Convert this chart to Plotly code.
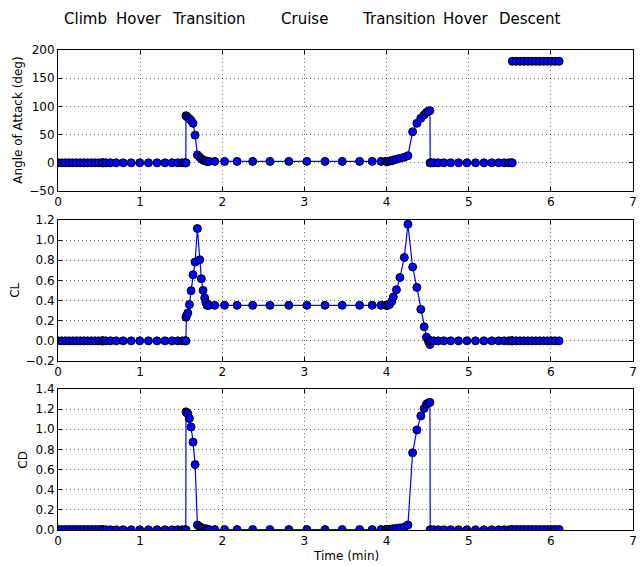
import plotly.graph_objects as go

# ---- mission segment data (time in minutes) ----
climb_t = [0.000, 0.045, 0.090, 0.135, 0.180, 0.225, 0.270, 0.315, 0.360, 0.405, 0.450, 0.495, 0.540]
climb_aoa = [0, 0, 0, 0, 0, 0, 0, 0, 0, 0, 0, 0, 0]
climb_cl = [0, 0, 0, 0, 0, 0, 0, 0, 0, 0, 0, 0, 0]
climb_cd = [0.005, 0.005, 0.005, 0.005, 0.005, 0.005, 0.005, 0.005, 0.005, 0.005, 0.005, 0.005, 0.005]

hover1_t = [0.540, 0.551, 0.584, 0.637, 0.708, 0.794, 0.891, 0.995, 1.101, 1.205, 1.302, 1.388, 1.459, 1.512, 1.545, 1.556]
hover1_aoa = [0, 0, 0, 0, 0, 0, 0, 0, 0, 0, 0, 0, 0, 0, 0, 0]
hover1_cl = [0, 0, 0, 0, 0, 0, 0, 0, 0, 0, 0, 0, 0, 0, 0, 0]
hover1_cd = [0.002, 0.002, 0.002, 0.002, 0.002, 0.002, 0.002, 0.002, 0.002, 0.002, 0.002, 0.002, 0.002, 0.002, 0.002, 0.002]

trans1_t = [1.556, 1.558, 1.565, 1.580, 1.600, 1.620, 1.644, 1.669, 1.697, 1.726, 1.745, 1.766, 1.786, 1.800, 1.816]
trans1_aoa = [0, 83.5, 82.5, 80.5, 78.0, 75.0, 70.0, 49.0, 14.0, 9.8, 7.0, 5.0, 3.7, 3.0, 2.7]
trans1_cl = [0, 0.234, 0.250, 0.277, 0.360, 0.498, 0.656, 0.782, 1.115, 0.805, 0.617, 0.501, 0.426, 0.382, 0.353]
trans1_cd = [0, 1.173, 1.165, 1.157, 1.107, 1.023, 0.873, 0.650, 0.050, 0.033, 0.020, 0.015, 0.012, 0.010, 0.009]

cruise_t = [1.816, 1.840, 1.908, 2.028, 2.180, 2.370, 2.580, 2.810, 3.030, 3.250, 3.460, 3.672, 3.825, 3.933, 3.990, 4.006]
cruise_aoa = [2.6, 2.5, 2.5, 2.5, 2.5, 2.5, 2.5, 2.5, 2.5, 2.5, 2.5, 2.5, 2.5, 2.5, 2.5, 2.5]
cruise_cl = [0.353, 0.353, 0.353, 0.353, 0.353, 0.353, 0.353, 0.353, 0.353, 0.353, 0.353, 0.353, 0.353, 0.353, 0.353, 0.353]
cruise_cd = [0.004, 0.004, 0.004, 0.004, 0.004, 0.004, 0.004, 0.004, 0.004, 0.004, 0.004, 0.004, 0.004, 0.004, 0.004, 0.004]

trans2_t = [4.006, 4.015, 4.035, 4.063, 4.083, 4.120, 4.163, 4.216, 4.260, 4.317, 4.369, 4.417, 4.458, 4.486, 4.510, 4.528, 4.531]
trans2_aoa = [2.5, 2.6, 3.0, 3.7, 5.0, 6.2, 8.0, 9.8, 12.6, 55.0, 70.0, 79.0, 85.0, 89.5, 91.5, 92.5, 0]
trans2_cl = [0.353, 0.353, 0.360, 0.392, 0.436, 0.508, 0.629, 0.828, 1.158, 0.733, 0.531, 0.313, 0.139, 0.036, -0.004, -0.037, 0]
trans2_cd = [0.004, 0.005, 0.007, 0.009, 0.012, 0.016, 0.021, 0.030, 0.050, 0.767, 0.993, 1.133, 1.207, 1.250, 1.263, 1.267, 0]

hover2_t = [4.531, 4.542, 4.574, 4.627, 4.697, 4.781, 4.876, 4.978, 5.083, 5.185, 5.280, 5.364, 5.434, 5.487, 5.519, 5.530]
hover2_aoa = [0, 0, 0, 0, 0, 0, 0, 0, 0, 0, 0, 0, 0, 0, 0, 0]
hover2_cl = [0, 0, 0, 0, 0, 0, 0, 0, 0, 0, 0, 0, 0, 0, 0, 0]
hover2_cd = [0.002, 0.002, 0.002, 0.002, 0.002, 0.002, 0.002, 0.002, 0.002, 0.002, 0.002, 0.002, 0.002, 0.002, 0.002, 0.002]

descent_t = [5.530, 5.577, 5.625, 5.672, 5.720, 5.767, 5.815, 5.862, 5.910, 5.957, 6.005, 6.052, 6.100]
descent_aoa = [180, 180, 180, 180, 180, 180, 180, 180, 180, 180, 180, 180, 180]
descent_cl = [0, 0, 0, 0, 0, 0, 0, 0, 0, 0, 0, 0, 0]
descent_cd = [0.005, 0.005, 0.005, 0.005, 0.005, 0.005, 0.005, 0.005, 0.005, 0.005, 0.005, 0.005, 0.005]

phase_labels = ["Climb", "Hover", "Transition", "Cruise", "Transition", "Hover", "Descent"]
x_ticks = [0, 1, 2, 3, 4, 5, 6, 7]

segments = [
    (climb_t, climb_aoa, climb_cl, climb_cd),
    (hover1_t, hover1_aoa, hover1_cl, hover1_cd),
    (trans1_t, trans1_aoa, trans1_cl, trans1_cd),
    (cruise_t, cruise_aoa, cruise_cl, cruise_cd),
    (trans2_t, trans2_aoa, trans2_cl, trans2_cd),
    (hover2_t, hover2_aoa, hover2_cl, hover2_cd),
    (descent_t, descent_aoa, descent_cl, descent_cd),
]

FONT = "DejaVu Sans"
W, H = 644, 566
ML, MR, MT, MB = 58, 7, 50, 36
PW, PH = W - ML - MR, H - MT - MB


def px_x(px):
    return (px - ML) / PW


def px_y(py):
    return (H - MB - py) / PH


fig = go.Figure()

axes_y = ["y", "y2", "y3"]
axes_x = ["x", "x2", "x3"]
for t, aoa, cl, cd in segments:
    for k, vals in enumerate([aoa, cl, cd]):
        fig.add_trace(go.Scatter(
            x=t, y=vals, mode="lines+markers",
            xaxis=axes_x[k], yaxis=axes_y[k],
            line=dict(color="#0000ff", width=1.2),
            marker=dict(size=8, color="#0000ff", line=dict(color="black", width=1)),
            showlegend=False, hoverinfo="skip",
        ))

grid = dict(showgrid=True, gridcolor="rgba(0,0,0,0.6)", gridwidth=1, griddash="1px,3px",
            zeroline=False, showline=True, linecolor="black", linewidth=1, mirror="ticks",
            ticks="inside", ticklen=4, tickcolor="black",
            tickfont=dict(family=FONT, size=12, color="black"))

xax = dict(range=[0, 7], tickvals=x_ticks, ticktext=[str(v) for v in x_ticks], domain=[0, 1], **grid)

doms = [
    [px_y(191), px_y(50)],
    [px_y(361), px_y(220)],
    [px_y(530), px_y(389)],
]

fig.update_layout(
    width=W, height=H,
    margin=dict(l=ML, r=MR, t=MT, b=MB),
    paper_bgcolor="white", plot_bgcolor="white",
    xaxis=dict(anchor="y", **xax),
    xaxis2=dict(anchor="y2", **xax),
    xaxis3=dict(anchor="y3", **xax),
    yaxis=dict(anchor="x", domain=doms[0], range=[-50, 200], dtick=50, **grid),
    yaxis2=dict(anchor="x2", domain=doms[1], range=[-0.2, 1.2], dtick=0.2, tickformat=".1f", **grid),
    yaxis3=dict(anchor="x3", domain=doms[2], range=[0, 1.4], dtick=0.2, tickformat=".1f", **grid),
)

ann = []
# phase names across the top
title_px = [62, 114, 171, 281, 362, 444, 500]
for label, px in zip(phase_labels, title_px):
    ann.append(dict(text=label, x=px_x(px), y=px_y(19), xref="paper", yref="paper",
                    xanchor="left", yanchor="middle", showarrow=False,
                    font=dict(family=FONT, size=15, color="black")))

# axis titles
for text, px, py in [("Angle of Attack (deg)", 18, 120.5), ("CL", 14, 290.5), ("CD", 22, 459.5)]:
    ann.append(dict(text=text, x=px_x(px), y=px_y(py), xref="paper", yref="paper",
                    xanchor="center", yanchor="middle", textangle=-90, showarrow=False,
                    font=dict(family=FONT, size=12, color="black")))
ann.append(dict(text="Time (min)", x=px_x(348), y=px_y(556), xref="paper", yref="paper",
                xanchor="center", yanchor="middle", showarrow=False,
                font=dict(family=FONT, size=12, color="black")))
fig.update_layout(annotations=ann)

fig.write_html("out.html")
